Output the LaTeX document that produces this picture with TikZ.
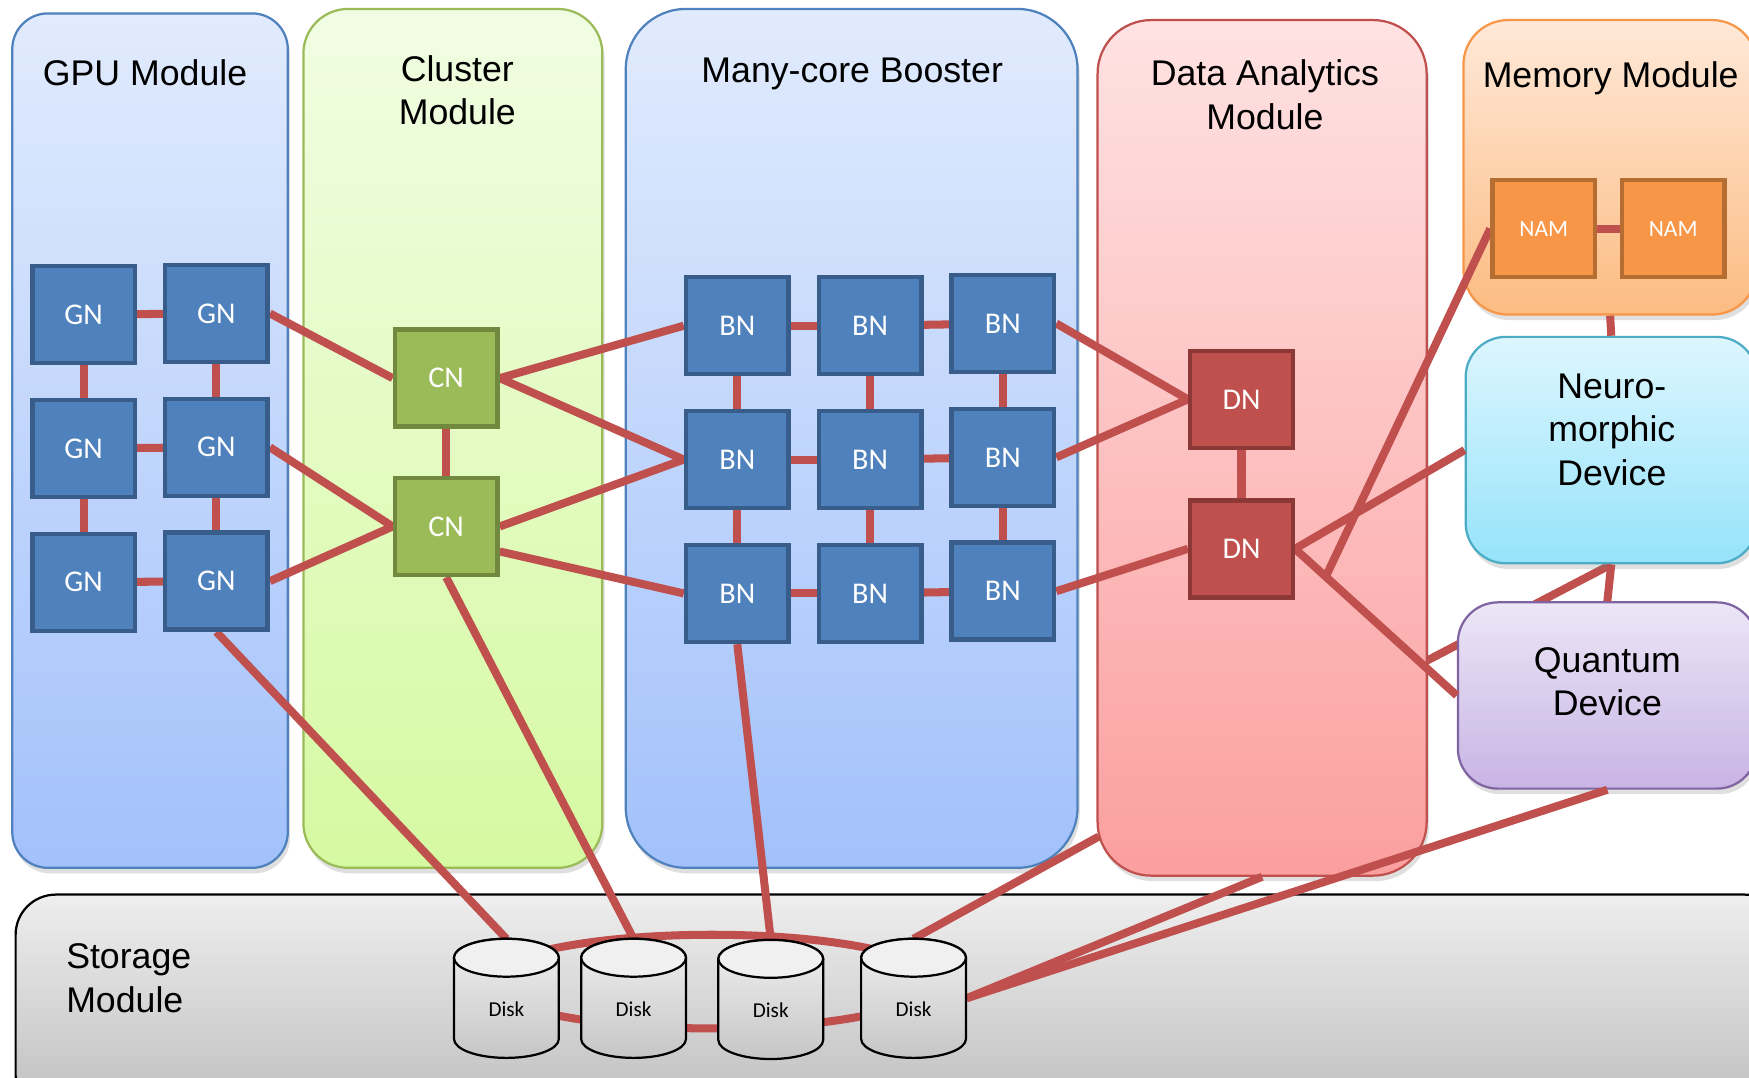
\documentclass[tikz,border=0pt]{standalone}
\usepackage{fontspec}
\setmainfont{Liberation Sans}
\newfontfamily\carl{Carlito}
\usetikzlibrary{calc,shadows}
\pgfdeclarelayer{bottom}
\pgfdeclarelayer{back}
\pgfdeclarelayer{conn}
\pgfdeclarelayer{cyl}
\pgfsetlayers{bottom,back,conn,cyl,main}

\definecolor{linkred}{HTML}{C0504D}
\definecolor{gnfill}{HTML}{4F81BD}
\definecolor{gnline}{HTML}{385D8A}
\definecolor{cnfill}{HTML}{9BBB59}
\definecolor{cnline}{HTML}{71893F}
\definecolor{dnfill}{HTML}{C0504D}
\definecolor{dnline}{HTML}{8C3836}
\definecolor{namfill}{HTML}{F79646}
\definecolor{namline}{HTML}{B66D31}
\definecolor{bluetop}{HTML}{E1EBFD}
\definecolor{bluebot}{HTML}{A2C1FB}
\definecolor{blueedge}{HTML}{4F81BD}
\definecolor{greentop}{HTML}{F1FDE3}
\definecolor{greenbot}{HTML}{D6F9A2}
\definecolor{greenedge}{HTML}{9BBB59}
\definecolor{redtop}{HTML}{FFE2E2}
\definecolor{redbot}{HTML}{FB9F9F}
\definecolor{orangetop}{HTML}{FFE9D9}
\definecolor{orangebot}{HTML}{FCBC82}
\definecolor{orangeedge}{HTML}{F79646}
\definecolor{cyantop}{HTML}{DDF6FE}
\definecolor{cyanbot}{HTML}{96E3FA}
\definecolor{cyanedge}{HTML}{4BACC6}
\definecolor{purpletop}{HTML}{ECE6F6}
\definecolor{purplebot}{HTML}{C8B4E5}
\definecolor{purpleedge}{HTML}{8064A2}
\definecolor{graytop}{HTML}{EEEEEE}
\definecolor{graybot}{HTML}{BEBEBE}
\definecolor{disktop}{HTML}{F0F0F0}
\definecolor{diskbot}{HTML}{C6C6C6}

\tikzset{
  module/.style={draw, line width=1pt, inner sep=0pt,
    drop shadow={opacity=0.25, shadow xshift=1pt, shadow yshift=-2.5pt}},
  title/.style={font=\fontsize{16}{19.5}\selectfont, align=center, inner sep=0pt},
  unit/.style={draw, line width=2pt, minimum width=46pt, minimum height=43.5pt,
    inner sep=0pt, text=white, font=\carl\fontsize{13.5}{16}\selectfont},
  gn/.style={unit, fill=gnfill, draw=gnline},
  cn/.style={unit, fill=cnfill, draw=cnline},
  dn/.style={unit, fill=dnfill, draw=dnline},
  nam/.style={unit, fill=namfill, draw=namline, font=\carl\fontsize{10.5}{12}\selectfont},
  diskbox/.style={rectangle, minimum width=47pt, minimum height=53pt, inner sep=0pt},
  disklabel/.style={inner sep=0pt, font=\carl\fontsize{9.5}{11}\selectfont},
  link/.style={draw=linkred, line width=3.6pt},
  diskbody/.style={draw=black, line width=1pt, top color=disktop, bottom color=diskbot},
}

\begin{document}
\begin{tikzpicture}[x=0.5pt, y=-0.5pt]
\useasboundingbox (0,0) rectangle (1568,966);
\begin{pgfonlayer}{bottom}
\fill[white] (0,0) rectangle (1568,966);
\end{pgfonlayer}

% ---------- modules ----------
\begin{pgfonlayer}{back}
\node[module, rounded corners=16pt, top color=bluetop, bottom color=bluebot, draw=blueedge,
  minimum width=123.5pt, minimum height=383pt] (gpu) at (134.5,395) {};
\node[module, rounded corners=20pt, top color=greentop, bottom color=greenbot, draw=greenedge,
  minimum width=134pt, minimum height=385pt] (cluster) at (406,393) {};
\node[module, rounded corners=27pt, top color=bluetop, bottom color=bluebot, draw=blueedge,
  minimum width=202.5pt, minimum height=385pt] (booster) at (763.5,393) {};
\node[module, rounded corners=24pt, top color=redtop, bottom color=redbot, draw=linkred,
  minimum width=147.5pt, minimum height=383.5pt] (da) at (1131.5,401.5) {};
\node[module, rounded corners=20pt, top color=orangetop, bottom color=orangebot, draw=orangeedge,
  minimum width=131.5pt, minimum height=132pt] (mem) at (1443.5,150) {};
\node[module, rounded corners=18pt, top color=cyantop, bottom color=cyanbot, draw=cyanedge,
  minimum width=130.5pt, minimum height=101.5pt] (neuro) at (1444.5,403.5) {};
\node[module, rounded corners=18pt, top color=purpletop, bottom color=purplebot, draw=purpleedge,
  minimum width=134pt, minimum height=83.5pt] (quantum) at (1441,623.5) {};
\node[module, rounded corners=18pt, top color=graytop, bottom color=graybot, draw=black,
  minimum width=793pt, minimum height=99pt] (storage) at (807,901) {};
\end{pgfonlayer}

% ---------- titles ----------
\node[title] (gpuT) at (130,65) {GPU Module};
\node[title] (clusterT) at (410,81) {Cluster\\Module};
\node[title] (boosterT) at (764,66) {Many-core Booster};
\node[title] (daT) at (1134,85) {Data Analytics\\Module};
\node[title] (memT) at (1444,70) {Memory Module};
\node[title] (neuroT) at (1445,385) {Neuro-\\morphic\\Device};
\node[title] (quantumT) at (1441,611) {Quantum\\Device};
\node[title, anchor=west, align=left] (storageT) at (59,877) {Storage\\Module};

% ---------- compute nodes ----------
\node[gn] (GN11) at (75,282) {GN};
\node[gn] (GN12) at (194,281) {GN};
\node[gn] (GN21) at (75,402) {GN};
\node[gn] (GN22) at (194,401) {GN};
\node[gn] (GN31) at (75,522) {GN};
\node[gn] (GN32) at (194,521) {GN};

\node[cn] (CN1) at (400,339) {CN};
\node[cn] (CN2) at (400,472) {CN};

\node[gn] (BN11) at (661,292) {BN};
\node[gn] (BN12) at (780,292) {BN};
\node[gn] (BN13) at (899,290) {BN};
\node[gn] (BN21) at (661,412) {BN};
\node[gn] (BN22) at (780,412) {BN};
\node[gn] (BN23) at (899,410) {BN};
\node[gn] (BN31) at (661,532) {BN};
\node[gn] (BN32) at (780,532) {BN};
\node[gn] (BN33) at (899,530) {BN};

\node[dn] (DN1) at (1113,358) {DN};
\node[dn] (DN2) at (1113,492) {DN};

\node[nam] (NAM1) at (1384,205) {NAM};
\node[nam] (NAM2) at (1500,205) {NAM};

\node[diskbox] (d1) at (454,895) {};
\node[diskbox] (d2) at (568,895) {};
\node[diskbox] (d3) at (691,896) {};
\node[diskbox] (d4) at (819,895) {};
\node[disklabel] (d1t) at ([yshift=-5pt]d1.center) {Disk};
\node[disklabel] (d2t) at ([yshift=-5pt]d2.center) {Disk};
\node[disklabel] (d3t) at ([yshift=-5pt]d3.center) {Disk};
\node[disklabel] (d4t) at ([yshift=-5pt]d4.center) {Disk};

\coordinate (hid) at (1230,618);
\coordinate (daL) at (985,750);
\coordinate (junc) at ($(DN2.east)!0.19!(quantum.west)$);

% ---------- hidden link (behind modules) ----------
\begin{pgfonlayer}{bottom}
\draw[link] (neuro.south) -- (hid);
\end{pgfonlayer}

% ---------- connectors ----------
\begin{pgfonlayer}{conn}
% disk ring
\draw[link] (638,880) ellipse[x radius=100pt, y radius=21pt];
% GN mesh
\draw[link] (GN11) -- (GN12);
\draw[link] (GN21) -- (GN22);
\draw[link] (GN31) -- (GN32);
\draw[link] (GN11) -- (GN21);
\draw[link] (GN21) -- (GN31);
\draw[link] (GN12) -- (GN22);
\draw[link] (GN22) -- (GN32);
% GN - CN
\draw[link] (GN12.east) -- (CN1.west);
\draw[link] (GN22.east) -- (CN2.west);
\draw[link] (GN32.east) -- (CN2.west);
\draw[link] (CN1) -- (CN2);
% CN - BN
\draw[link] (CN1.east) -- (BN11.west);
\draw[link] (CN1.east) -- (BN21.west);
\draw[link] (CN2.east) -- (BN21.west);
\draw[link] (CN2.-25) -- (BN31.west);
% BN mesh
\draw[link] (BN11) -- (BN12);
\draw[link] (BN12) -- (BN13);
\draw[link] (BN21) -- (BN22);
\draw[link] (BN22) -- (BN23);
\draw[link] (BN31) -- (BN32);
\draw[link] (BN32) -- (BN33);
\draw[link] (BN11) -- (BN21);
\draw[link] (BN21) -- (BN31);
\draw[link] (BN12) -- (BN22);
\draw[link] (BN22) -- (BN32);
\draw[link] (BN13) -- (BN23);
\draw[link] (BN23) -- (BN33);
% BN - DN
\draw[link] (BN13.east) -- (DN1.west);
\draw[link] (BN23.east) -- (DN1.west);
\draw[link] (BN33.east) -- (DN2.west);
\draw[link] (DN1) -- (DN2);
% DN - devices
\draw[link] (DN2.east) -- (neuro.west);
\draw[link] (DN2.east) -- (quantum.west);
\draw[link] (NAM1.west) -- (junc);
\draw[link] (NAM1) -- (NAM2);
\draw[link] (mem.south) -- (neuro.north);
\draw[link] (neuro.south) -- (quantum.north);
% to storage
\draw[link] (GN32.south) -- (d1.north);
\draw[link] (CN2.south) -- (d2.north);
\draw[link] (BN31.south) -- (d3.north);
\draw[link] (d4.north) -- (daL);
\draw[link] (d4.east) -- (da.south);
\draw[link] (d4.east) -- (quantum.south);
\end{pgfonlayer}

% ---------- disk cylinders ----------
\begin{pgfonlayer}{cyl}
\foreach \d in {d1,d2,d3,d4}{
  \path[diskbody] ([xshift=-23.5pt,yshift=-8.5pt]\d.north)
    -- ([xshift=-23.5pt,yshift=8.5pt]\d.south)
    arc[start angle=180, end angle=360, x radius=23.5pt, y radius=8.5pt]
    -- ([xshift=23.5pt,yshift=-8.5pt]\d.north)
    arc[start angle=0, end angle=180, x radius=23.5pt, y radius=8.5pt]
    -- cycle;
  \draw[line width=1pt, fill=disktop] ([yshift=-8.5pt]\d.north)
    ellipse[x radius=23.5pt, y radius=8.5pt];
}
\end{pgfonlayer}
\end{tikzpicture}
\end{document}
